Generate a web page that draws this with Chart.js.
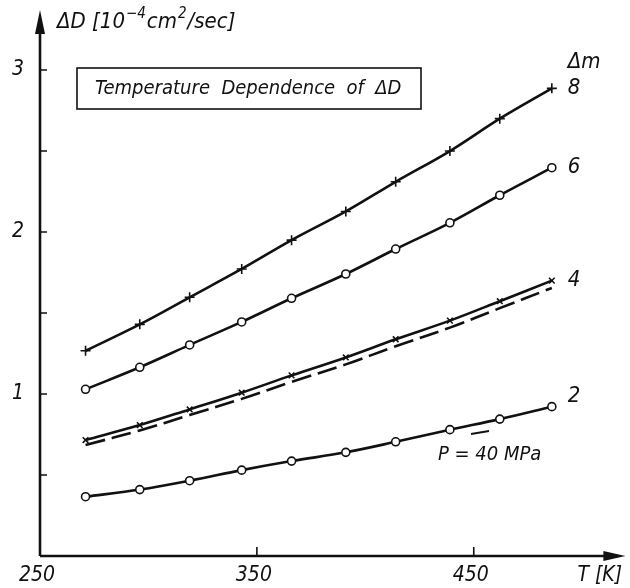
<!DOCTYPE html>
<html>
<head>
<meta charset="utf-8">
<script src="https://cdn.jsdelivr.net/npm/chart.js@4/dist/chart.umd.min.js"></script>
<style>
  html, body { margin: 0; padding: 0; background: #fff; }
  canvas { display: block; }
</style>
</head>
<body>
<canvas id="chart" width="630" height="588"></canvas>
<script>
// Temperature dependence of dD
var temps = [271, 296, 319, 343, 366, 391, 414, 439, 462, 486];

var dm8 = [1.267, 1.430, 1.597, 1.772, 1.950, 2.127, 2.310, 2.500, 2.700, 2.887];
var dm6 = [1.029, 1.165, 1.303, 1.445, 1.591, 1.741, 1.895, 2.057, 2.227, 2.397];
var dm4 = [0.716, 0.808, 0.905, 1.008, 1.115, 1.226, 1.338, 1.453, 1.573, 1.700];
var dm4p40 = [0.685, 0.775, 0.870, 0.970, 1.075, 1.183, 1.295, 1.410, 1.530, 1.655];
var dm2 = [0.366, 0.410, 0.465, 0.530, 0.586, 0.640, 0.705, 0.780, 0.845, 0.922];

var seriesLabels = ['8', '6', '4', '2'];
var xTicks = [250, 350, 450];
var yTicks = [0.5, 1, 1.5, 2, 2.5, 3];
var yTickLabels = { 1: '1', 2: '2', 3: '3' };

var FONT = '"DejaVu Sans Condensed", "Liberation Sans Narrow", "DejaVu Sans", sans-serif';
var INK = '#111';

function pts(vals) {
    return temps.map(function (t, i) { return { x: t, y: vals[i] }; });
}

function lineSet(label, vals, style, radius, dash) {
    return {
        label: label,
        data: pts(vals),
        borderColor: INK,
        borderWidth: 2.6,
        borderDash: dash || [],
        pointStyle: style,
        pointRadius: style ? radius : 0,
        pointBackgroundColor: '#fff',
        pointBorderColor: INK,
        pointBorderWidth: 1.6,
        tension: 0.35,
        fill: false
    };
}

// draws axes with arrows, inward ticks and all the text of the figure
var decorations = {
    id: 'decorations',
    afterDraw: function (chart) {
        var ctx = chart.ctx;
        var xs = chart.scales.x, ys = chart.scales.y;
        var ca = chart.chartArea;
        var x0 = xs.getPixelForValue(250);
        var y0 = ys.getPixelForValue(0);

        ctx.save();
        ctx.strokeStyle = INK;
        ctx.fillStyle = INK;
        ctx.lineWidth = 2.6;

        // axes
        ctx.beginPath();
        ctx.moveTo(x0, y0);
        ctx.lineTo(ca.right - 10, y0);
        ctx.moveTo(x0, y0);
        ctx.lineTo(x0, ca.top + 12);
        ctx.stroke();

        // arrow heads
        ctx.beginPath();
        ctx.moveTo(ca.right + 2, y0);
        ctx.lineTo(ca.right - 20, y0 - 5);
        ctx.lineTo(ca.right - 20, y0 + 5);
        ctx.closePath();
        ctx.fill();
        ctx.beginPath();
        ctx.moveTo(x0, ca.top - 4);
        ctx.lineTo(x0 - 5, ca.top + 20);
        ctx.lineTo(x0 + 5, ca.top + 20);
        ctx.closePath();
        ctx.fill();

        // inward ticks
        ctx.lineWidth = 1.6;
        ctx.beginPath();
        yTicks.forEach(function (v) {
            var py = ys.getPixelForValue(v);
            ctx.moveTo(x0, py);
            ctx.lineTo(x0 + 7, py);
        });
        xTicks.forEach(function (v) {
            if (v === 250) return;
            var px = xs.getPixelForValue(v);
            ctx.moveTo(px, y0);
            ctx.lineTo(px, y0 - 9);
        });
        ctx.stroke();

        // tick labels
        ctx.font = 'italic 21px ' + FONT;
        ctx.textBaseline = 'middle';
        ctx.textAlign = 'right';
        Object.keys(yTickLabels).forEach(function (k) {
            ctx.fillText(yTickLabels[k], x0 - 16, ys.getPixelForValue(+k));
        });
        ctx.textAlign = 'center';
        xTicks.forEach(function (v) {
            ctx.fillText(String(v), xs.getPixelForValue(v) - 3, y0 + 20);
        });
        ctx.textAlign = 'left';
        ctx.fillText('T [K]', ca.right - 46, y0 + 20);

        // y axis title with superscripts
        var tx = x0 + 17, ty = 22;
        ctx.font = 'italic 22px ' + FONT;
        ctx.fillText('\u0394D [10', tx, ty);
        tx += ctx.measureText('\u0394D [10').width + 1;
        ctx.font = 'italic 15px ' + FONT;
        ctx.fillText('\u22124', tx, ty - 8);
        tx += ctx.measureText('\u22124').width + 1;
        ctx.font = 'italic 22px ' + FONT;
        ctx.fillText('cm', tx, ty);
        tx += ctx.measureText('cm').width + 1;
        ctx.font = 'italic 15px ' + FONT;
        ctx.fillText('2', tx, ty - 8);
        tx += ctx.measureText('2').width + 1;
        ctx.font = 'italic 22px ' + FONT;
        ctx.fillText('/sec]', tx, ty);

        // title box
        ctx.lineWidth = 1.6;
        ctx.strokeRect(77, 68, 344, 41);
        ctx.font = 'italic 20px ' + FONT;
        ctx.fillText('Temperature  Dependence  of  \u0394D', 95, 89);

        // curve labels at the end of each curve
        ctx.font = 'italic 22px ' + FONT;
        var ends = [dm8, dm6, dm4, dm2];
        var lastT = temps[temps.length - 1];
        ends.forEach(function (vals, i) {
            var px = xs.getPixelForValue(lastT) + 16;
            var py = ys.getPixelForValue(vals[vals.length - 1]) + (i === 3 ? -10 : 0);
            ctx.fillText(seriesLabels[i], px, py);
        });
        ctx.fillText('\u0394m', xs.getPixelForValue(lastT) + 16, 62);

        // pressure note for the dashed curve
        ctx.font = 'italic 20px ' + FONT;
        ctx.fillText('P = 40 MPa', 438, 455);
        ctx.lineWidth = 1.8;
        ctx.beginPath();
        ctx.moveTo(471, 434);
        ctx.lineTo(489, 431);
        ctx.stroke();

        ctx.restore();
    }
};

new Chart(document.getElementById('chart'), {
    type: 'line',
    data: {
        datasets: [
            lineSet('8', dm8, 'cross', 5),
            lineSet('6', dm6, 'circle', 4),
            lineSet('4', dm4, 'crossRot', 4),
            lineSet('4, P = 40 MPa', dm4p40, false, 0, [20, 7]),
            lineSet('2', dm2, 'circle', 4)
        ]
    },
    options: {
        responsive: false,
        animation: false,
        devicePixelRatio: 1,
        layout: { padding: { left: 40, right: 4, top: 14, bottom: 32 } },
        plugins: { legend: { display: false }, tooltip: { enabled: false } },
        scales: {
            x: { type: 'linear', min: 250, max: 519, display: false },
            y: { type: 'linear', min: 0, max: 3.346, display: false }
        }
    },
    plugins: [decorations]
});
</script>
</body>
</html>
